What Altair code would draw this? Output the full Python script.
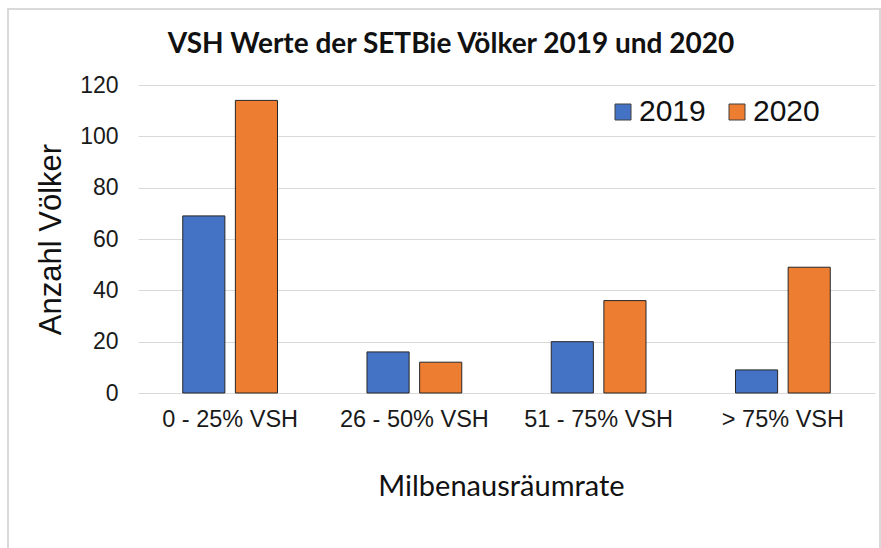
import altair as alt
import pandas as pd

categories = ["0 - 25% VSH", "26 - 50% VSH", "51 - 75% VSH", "> 75% VSH"]
years = ["2019", "2020"]
values_2019 = [69, 16, 20, 9]
values_2020 = [114, 12, 36, 49]
title_text = "VSH Werte der SETBie Völker 2019 und 2020"

rows = []
for c, a, b in zip(categories, values_2019, values_2020):
    rows.append({"cat": c, "year": "2019", "value": a})
    rows.append({"cat": c, "year": "2020", "value": b})
df = pd.DataFrame(rows)

W, H = 737, 308
PL, PT = 138, 85

bars = alt.Chart(df).mark_bar(stroke="#262626", strokeWidth=1).encode(
    x=alt.X("cat:N", sort=categories,
            scale=alt.Scale(paddingInner=0, paddingOuter=0),
            axis=alt.Axis(title="Milbenausräumrate", labelAngle=0,
                          labelFont="Liberation Sans", labelFontSize=23.5,
                          labelColor="#1a1a1a", labelPadding=14,
                          ticks=False, domain=False,
                          titleFont="Lato", titleFontSize=29,
                          titleFontWeight="normal", titleColor="#111111",
                          titleX=363, titleY=93, titleBaseline="middle")),
    xOffset=alt.XOffset("year:N", sort=years,
                        scale=alt.Scale(paddingInner=0.2, paddingOuter=0.85)),
    y=alt.Y("value:Q", scale=alt.Scale(domain=[0, 120], nice=False),
            axis=alt.Axis(title="Anzahl Völker", values=[0, 20, 40, 60, 80, 100, 120],
                          labelFont="Liberation Sans", labelFontSize=23,
                          labelColor="#1a1a1a", labelPadding=20,
                          ticks=False, domain=False,
                          gridColor="#d9d9d9", gridWidth=1,
                          titleFont="Liberation Sans", titleFontSize=31,
                          titleFontWeight="normal", titleColor="#111111",
                          titleX=-87, titleY=154, titleAngle=270,
                          titleBaseline="middle", titleAlign="center")),
    color=alt.Color("year:N", sort=years,
                    scale=alt.Scale(domain=years, range=["#4472C4", "#ED7D31"]),
                    legend=alt.Legend(title=None, orient="none", direction="horizontal",
                                      legendX=470, legendY=12,
                                      symbolType="square", symbolSize=256,
                                      symbolStrokeColor="#404040", symbolStrokeWidth=1,
                                      labelFont="Liberation Sans", labelFontSize=30,
                                      labelColor="#111111", columnPadding=16,
                                      labelOffset=1)),
)

border = alt.Chart(pd.DataFrame({"a": [0]})).mark_rect(
    fill=None, stroke="#d9d9d9", strokeWidth=2
).encode(
    x=alt.value(-130), x2=alt.value(742), y=alt.value(-76), y2=alt.value(480)
)

title = alt.Chart(pd.DataFrame({"t": [title_text]})).mark_text(
    font="Lato", fontSize=28, fontWeight="bold", color="#111111",
    align="center", baseline="middle"
).encode(
    text="t:N", x=alt.value(313), y=alt.value(-40)
)

chart = alt.layer(border, bars, title).properties(
    width=W, height=H,
    autosize=alt.AutoSizeParams(type="none"),
    padding={"left": PL, "top": PT, "right": 881 - PL - W, "bottom": 548 - PT - H},
    background="white",
).configure_view(stroke=None)

chart.save("out.html", embed_options={"renderer": "svg", "actions": False})
